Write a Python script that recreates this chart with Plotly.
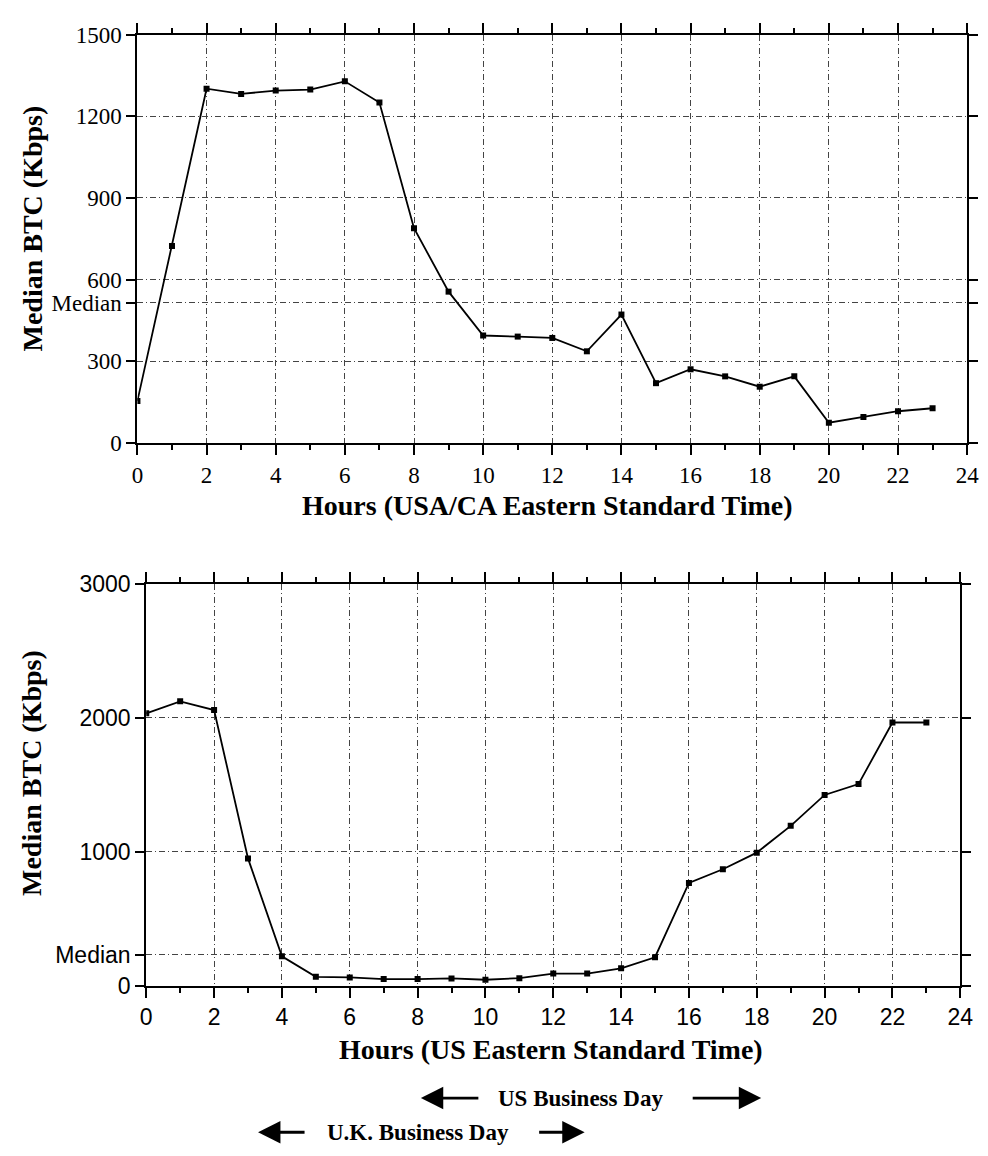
import plotly.graph_objects as go

hours = list(range(24))

# Top chart: USA/CA
top_btc = [155, 724, 1301, 1282, 1294, 1298, 1328, 1250, 789, 556, 395,
           391, 386, 337, 472, 220, 271, 245, 207, 245, 75, 96, 117, 128]
top_median = 515

# Bottom chart: US
bot_btc = [2033, 2123, 2058, 950, 219, 66, 61, 49, 49, 54, 44,
           56, 90, 90, 129, 212, 767, 869, 993, 1193, 1424, 1505, 1965, 1965]
bot_median = 230

top_yticks = [0, 300, top_median, 600, 900, 1200, 1500]
top_ytext = ["0", "300", "Median", "600", "900", "1200", "1500"]
bot_yticks = [0, bot_median, 1000, 2000, 3000]
bot_ytext = ["0", "Median", "1000", "2000", "3000"]
xticks = list(range(0, 25, 2))

W, H = 988, 1156

def px(x):
    return x / W

def py(y):
    return 1 - y / H

fig = go.Figure()
fig.add_trace(go.Scatter(x=hours, y=top_btc, mode="lines+markers",
                         line=dict(color="black", width=1.8),
                         marker=dict(symbol="square", size=6, color="black"),
                         xaxis="x", yaxis="y", showlegend=False))
fig.add_trace(go.Scatter(x=hours, y=bot_btc, mode="lines+markers",
                         line=dict(color="black", width=1.8),
                         marker=dict(symbol="square", size=6, color="black"),
                         xaxis="x2", yaxis="y2", showlegend=False))

serif = "Liberation Serif, Times New Roman, serif"
sans = "Liberation Sans, Arial, sans-serif"
GRIDDASH = "6px,3px,1px,3px"

def xaxis_cfg(domain, anchor, fontfam):
    return dict(domain=domain, anchor=anchor, range=[0, 24], tickvals=xticks,
                ticktext=[str(v) for v in xticks],
                showline=True, linecolor="black", linewidth=2, mirror="allticks",
                ticks="outside", ticklen=10, tickwidth=1.5, tickcolor="black",
                showgrid=True, gridcolor="#444", gridwidth=1, griddash=GRIDDASH,
                zeroline=False,
                minor=dict(tickvals=list(range(1, 24, 2)), ticks="outside", ticklen=5,
                           tickwidth=1.5, tickcolor="black", showgrid=False),
                tickfont=dict(family=fontfam, size=23, color="black"))

def yaxis_cfg(domain, anchor, rng, tv, tt, fontfam):
    return dict(domain=domain, anchor=anchor, range=rng, tickvals=tv, ticktext=tt,
                showline=True, linecolor="black", linewidth=2, mirror="allticks",
                ticks="outside", ticklen=9, tickwidth=1.5, tickcolor="black",
                showgrid=True, gridcolor="#444", gridwidth=1, griddash=GRIDDASH,
                zeroline=False, ticklabelstandoff=0,
                tickfont=dict(family=fontfam, size=23, color="black"))

fig.update_layout(
    width=W, height=H, margin=dict(l=0, r=0, t=0, b=0),
    paper_bgcolor="white", plot_bgcolor="white",
    xaxis=xaxis_cfg([px(134), px(980)], "y", serif),
    yaxis=yaxis_cfg([py(440), py(22)], "x", [0, 1500], top_yticks, top_ytext, serif),
    xaxis2=xaxis_cfg([px(143), px(973)], "y2", sans),
    yaxis2=yaxis_cfg([py(995), py(584)], "x2", [0, 3000], bot_yticks, bot_ytext, sans),
)

ann = []
title_font = dict(family=serif, size=28, color="black")
ann.append(dict(text="<b>Hours (USA/CA Eastern Standard Time)</b>", x=px(552), y=py(504),
                xref="paper", yref="paper", showarrow=False, font=title_font,
                xanchor="center", yanchor="middle"))
ann.append(dict(text="<b>Median BTC (Kbps)</b>", x=px(27), y=py(220),
                xref="paper", yref="paper", showarrow=False, textangle=-90,
                font=dict(family=serif, size=28, color="black"),
                xanchor="center", yanchor="middle"))
ann.append(dict(text="<b>Hours (US Eastern Standard Time)</b>", x=px(556), y=py(1060),
                xref="paper", yref="paper", showarrow=False, font=title_font,
                xanchor="center", yanchor="middle"))
ann.append(dict(text="<b>Median BTC (Kbps)</b>", x=px(26), y=py(778),
                xref="paper", yref="paper", showarrow=False, textangle=-90,
                font=dict(family=serif, size=28, color="black"),
                xanchor="center", yanchor="middle"))

lab_font = dict(family=serif, size=23, color="black")
ann.append(dict(text="<b>US Business Day</b>", x=px(586), y=py(1110),
                xref="paper", yref="paper", showarrow=False, font=lab_font,
                xanchor="center", yanchor="middle"))
ann.append(dict(text="<b>U.K. Business Day</b>", x=px(420), y=py(1145),
                xref="paper", yref="paper", showarrow=False, font=lab_font,
                xanchor="center", yanchor="middle"))

def arrow(tip_x, tail_x, y):
    return dict(text="", x=px(tip_x), y=py(y), xref="paper", yref="paper",
                ax=tail_x - tip_x, ay=0, axref="pixel", ayref="pixel",
                showarrow=True, arrowhead=2, arrowsize=1.6, arrowwidth=2.8,
                arrowcolor="black", standoff=0)

ann.append(arrow(423, 482, 1110))
ann.append(arrow(770, 700, 1110))
ann.append(arrow(257, 305, 1145))
ann.append(arrow(590, 543, 1145))

fig.update_layout(annotations=ann)

fig.write_html("out.html")
